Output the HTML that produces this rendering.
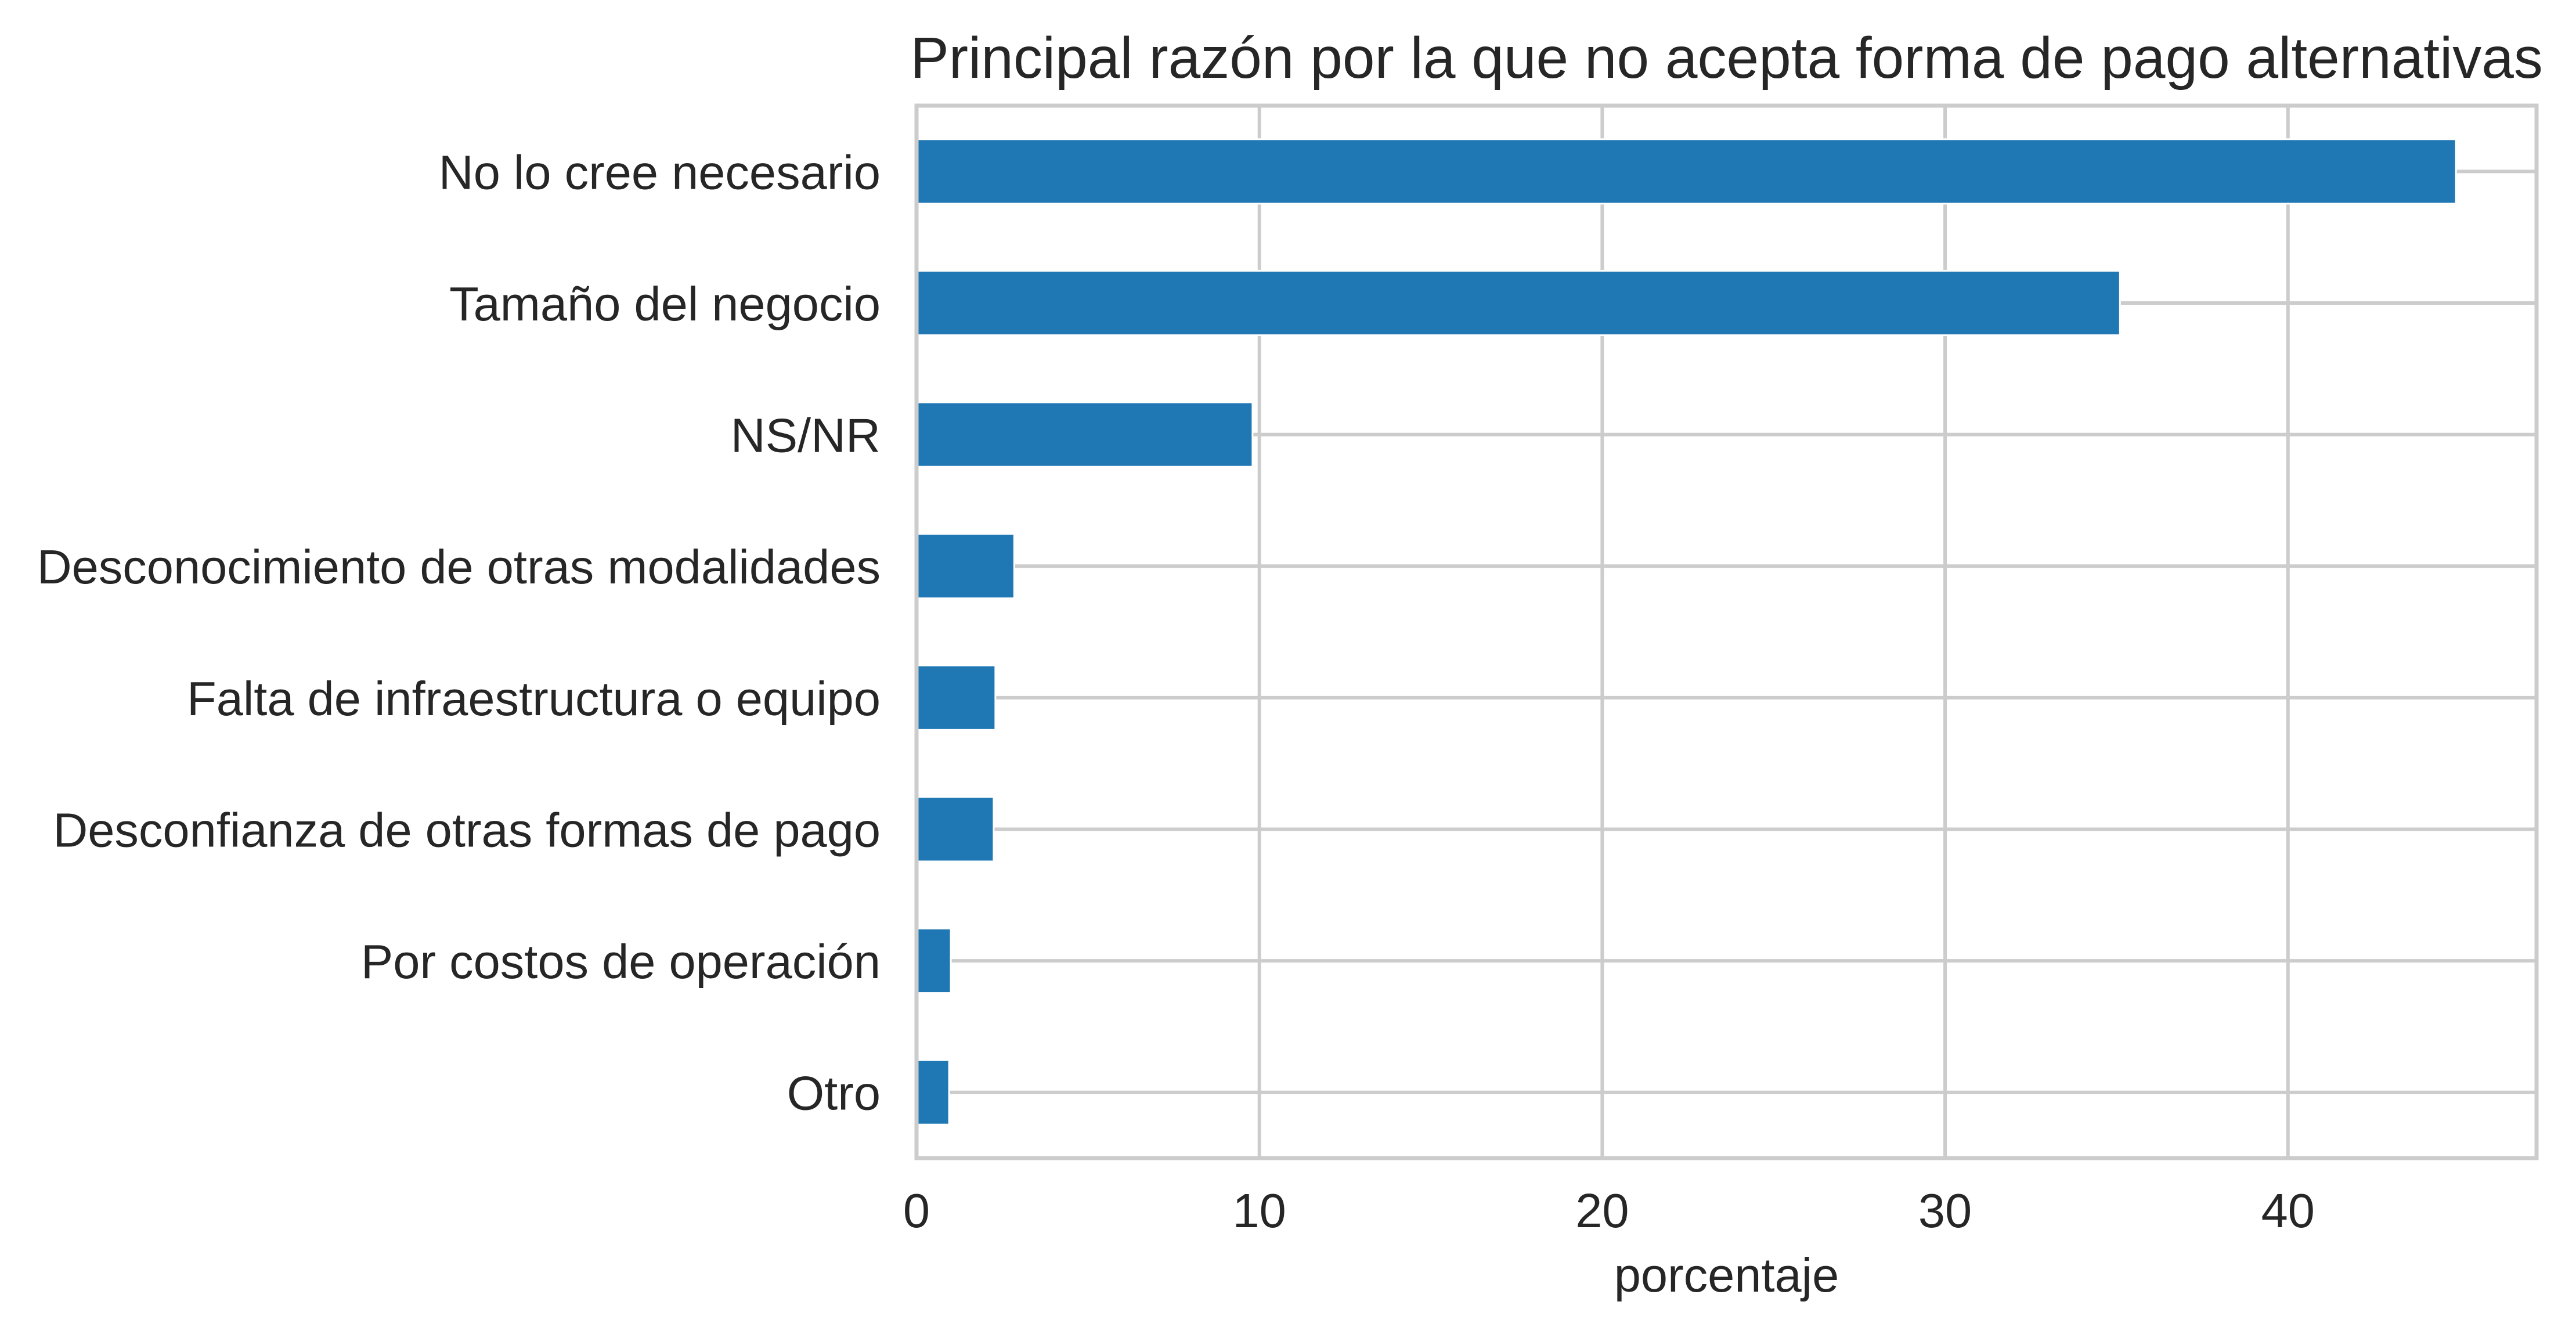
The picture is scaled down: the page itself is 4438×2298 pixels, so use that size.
<!DOCTYPE html>
<html><head><meta charset="utf-8"><style>html,body{margin:0;padding:0;background:#fff}svg{display:block}</style></head>
<body>
<svg id="chart" width="4438" height="2298" xmlns="http://www.w3.org/2000/svg" font-family="'Liberation Sans', Arial, sans-serif" fill="#262626"></svg>
<script>
const categories = ["No lo cree necesario","Tamaño del negocio","NS/NR","Desconocimiento de otras modalidades","Falta de infraestructura o equipo","Desconfianza de otras formas de pago","Por costos de operación","Otro"];
const values = [44.9, 35.1, 9.8, 2.85, 2.3, 2.25, 1.0, 0.95];
const xTicks = [0, 10, 20, 30, 40];
const xMax = 47.25;

const L = 1579, R = 4370, T = 182, B = 1995;
const NS = "http://www.w3.org/2000/svg";
const svg = document.getElementById('chart');
const xs = v => L + (v / xMax) * (R - L);
const band = (B - T) / categories.length;
const yc = i => T + band * (i + 0.5);
function mk(tag, attrs, parent) {
  const e = document.createElementNS(NS, tag);
  for (const k in attrs) e.setAttribute(k, attrs[k]);
  (parent || svg).appendChild(e);
  return e;
}
xTicks.forEach(t => {
  const g = mk('line', {x1: xs(t), x2: xs(t), y1: T, y2: B, stroke: '#cccccc', 'stroke-width': 6});
  
  
  const tx = mk('text', {x: xs(t), y: 2114, 'font-size': 83, 'text-anchor': 'middle'});
  tx.textContent = t;
  
  
});
categories.forEach((c, i) => {
  const g = mk('line', {x1: L, x2: R, y1: yc(i), y2: yc(i), stroke: '#cccccc', 'stroke-width': 6});
  
  
  const bh = band * 0.49;
  const b = mk('rect', {x: L, y: yc(i) - bh / 2, width: xs(values[i]) - L, height: bh, fill: '#1f77b4', stroke: '#ffffff', 'stroke-width': 3});
  
  
  const tx = mk('text', {x: 1517, y: yc(i) + 30, 'font-size': 83, 'text-anchor': 'end'});
  tx.textContent = c;
  
  
});
const sp = mk('rect', {x: L, y: T, width: R - L, height: B - T, fill: 'none', stroke: '#cccccc', 'stroke-width': 7});


const title = mk('text', {x: (L + R) / 2, y: 134, 'font-size': 100, 'text-anchor': 'middle'});
title.textContent = 'Principal razón por la que no acepta forma de pago alternativas';


const xl = mk('text', {x: (L + R) / 2, y: 2225, 'font-size': 83, 'text-anchor': 'middle'});
xl.textContent = 'porcentaje';


</script>
</body></html>
